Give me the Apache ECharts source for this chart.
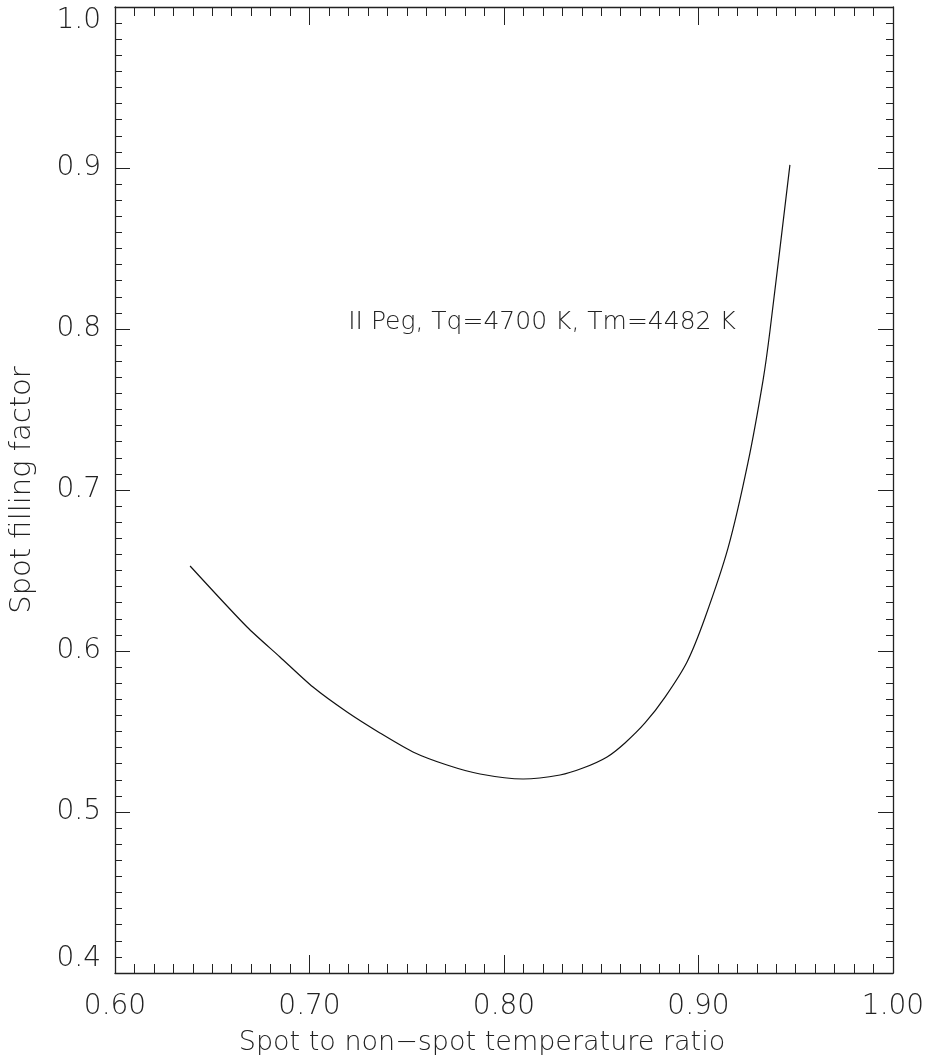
<!DOCTYPE html>
<html lang="en" style="height: 100%">
<head>
    <meta charset="utf-8">
    <title>II Peg spot filling factor</title>
    <script src="https://cdn.jsdelivr.net/npm/echarts@6.0.0/dist/echarts.min.js"></script>
</head>
<body style="height: 100%; margin: 0; background: #fff">
<div id="container" style="width: 930px; height: 1064px"></div>
<script type="text/javascript">
    // temperature ratio (x) vs filling factor (y)
    var tempRatio = [0.6386, 0.6679, 0.6848, 0.7018, 0.7193, 0.7362, 0.7532, 0.7707, 0.7877,
        0.8098, 0.8288, 0.8406, 0.8530, 0.8622, 0.8725, 0.8828, 0.8941, 0.9033, 0.9152,
        0.9254, 0.9332, 0.9368, 0.9470];
    var fillFactor = [0.6528, 0.6149, 0.5963, 0.5776, 0.5621, 0.5491, 0.5373, 0.5292, 0.5236,
        0.5205, 0.5230, 0.5273, 0.5342, 0.5429, 0.5553, 0.5714, 0.5932, 0.6205, 0.6640,
        0.7168, 0.7683, 0.7994, 0.9019];
    var xTitle = 'Spot to non\u2212spot temperature ratio';
    var yTitle = 'Spot filling factor';
    var note = 'II Peg, Tq=4700 K, Tm=4482 K';

    var font = "'DejaVu Sans', sans-serif";
    var ink = '#222';

    var dom = document.getElementById('container');
    var myChart = echarts.init(dom, null, {renderer: 'canvas'});

    var points = tempRatio.map(function (t, i) {
        return [t, fillFactor[i]];
    });

    function xAxisOf(pos, showLabels) {
        return {
            type: 'value',
            position: pos,
            min: 0.6,
            max: 1.0,
            interval: 0.1,
            name: showLabels ? xTitle : '',
            nameLocation: 'middle',
            nameGap: 56,
            nameTextStyle: {
                fontFamily: font, fontWeight: 200, fontSize: 27, color: ink,
                padding: [0, 44, 0, 0]
            },
            axisLine: {show: true, onZero: false, lineStyle: {color: ink, width: 1.3}},
            axisTick: {show: true, inside: true, length: 18, lineStyle: {color: ink, width: 1}},
            minorTick: {show: true, splitNumber: 10, length: 9, lineStyle: {color: ink, width: 1}},
            axisLabel: {
                show: showLabels,
                margin: 20,
                fontFamily: font,
                fontWeight: 200,
                fontSize: 28,
                color: ink,
                formatter: function (v) { return v.toFixed(2); }
            },
            splitLine: {show: false}
        };
    }

    function yAxisOf(pos, showLabels) {
        return {
            type: 'value',
            position: pos,
            min: 0.4,
            max: 1.0,
            interval: 0.1,
            name: showLabels ? yTitle : '',
            nameLocation: 'middle',
            nameGap: 78,
            nameTextStyle: {fontFamily: font, fontWeight: 200, fontSize: 29, color: ink},
            axisLine: {show: true, onZero: false, lineStyle: {color: ink, width: 1.3}},
            axisTick: {show: true, inside: true, length: 15, lineStyle: {color: ink, width: 1}},
            minorTick: {show: true, splitNumber: 10, length: 7, lineStyle: {color: ink, width: 1}},
            axisLabel: {
                show: showLabels,
                margin: 14,
                fontFamily: font,
                fontWeight: 200,
                fontSize: 28,
                color: ink,
                verticalAlignMaxLabel: 'top',
                verticalAlignMinLabel: 'bottom',
                formatter: function (v) { return v.toFixed(1); }
            },
            splitLine: {show: false}
        };
    }

    var option = {
        animation: false,
        backgroundColor: '#fff',
        grid: {left: 115, right: 37, top: 7, bottom: 91},
        xAxis: [xAxisOf('bottom', true), xAxisOf('top', false)],
        yAxis: [yAxisOf('left', true), yAxisOf('right', false)],
        series: [
            {
                type: 'line',
                data: points,
                showSymbol: false,
                smooth: 0.25,
                lineStyle: {color: '#111', width: 1.2}
            }
        ],
        graphic: {
            elements: [
                {
                    type: 'text',
                    x: 542,
                    y: 322,
                    style: {
                        text: note,
                        font: '200 25px ' + font,
                        fill: ink,
                        textAlign: 'center',
                        textVerticalAlign: 'middle'
                    }
                }
            ]
        }
    };

    myChart.setOption(option);
    window.addEventListener('resize', myChart.resize);
</script>
</body>
</html>
